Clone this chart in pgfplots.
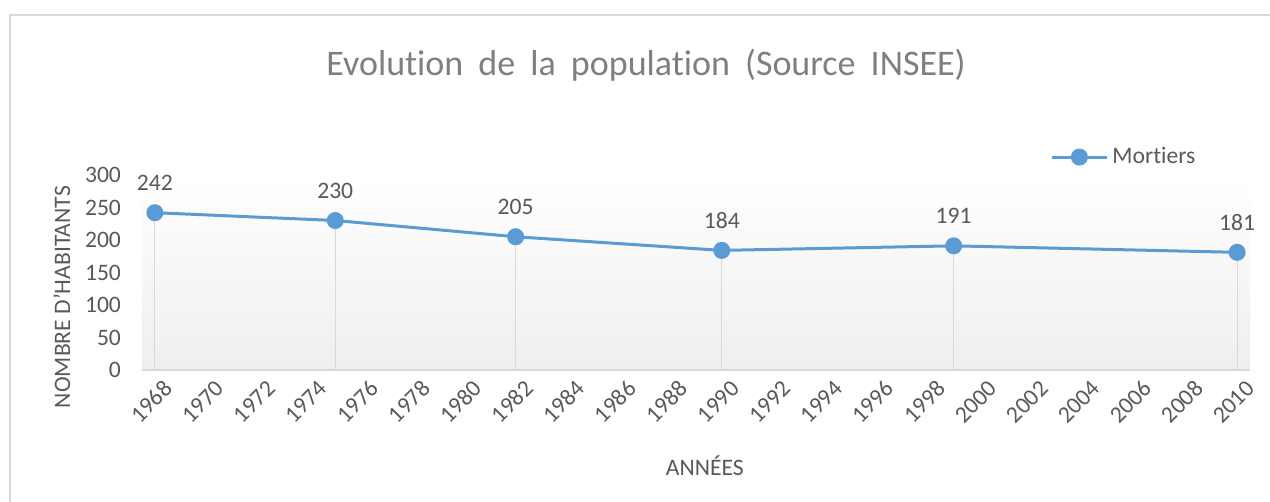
\documentclass[border=0pt]{standalone}
\usepackage{fontspec}
\setmainfont{Carlito}[Ligatures={NoCommon}]
\usepackage{pgfplots}
\pgfplotsset{compat=1.18}
\definecolor{lineblue}{HTML}{5B9BD5}
\definecolor{txtgray}{HTML}{595959}
\definecolor{titlegray}{HTML}{7F7F7F}
\definecolor{gridgray}{HTML}{D9D9D9}
\newcommand{\lbl}{\fontsize{11.8}{13}\selectfont}
\begin{document}
\begin{tikzpicture}
\useasboundingbox (0,0) rectangle (635pt,251pt);
\draw[gridgray, line width=1pt] (5pt,0) -- (5pt,243.5pt) -- (635pt,243.5pt);
\begin{axis}[
  at={(71pt,66pt)}, anchor=south west,
  scale only axis, width=554pt, height=97.5pt,
  xmin=1967.5, xmax=2010.5, ymin=0, ymax=300,
  xtick={1968,1970,...,2010},
  ytick={0,50,...,300},
  /pgf/number format/1000 sep={},
  /pgf/number format/assume math mode=true,
  axis x line*=bottom, axis y line*=left,
  x axis line style={gridgray, line width=0.75pt, -},
  y axis line style={draw=none},
  major tick length=0pt,
  clip=false,
  axis background/.style={top color=white, bottom color=gray!13},
  tick label style={font=\lbl, text=txtgray},
  yticklabel style={xshift=-7pt},
  xticklabel style={rotate=45, anchor=east, yshift=-10pt, xshift=3pt},
  title={\spaceskip=0.42em Evolution de la population (Source INSEE)},
  title style={at={(axis description cs:0.455,1.50)}, anchor=center,
    font=\fontsize{18}{21}\selectfont, text=titlegray},
  xlabel={ANNÉES},
  xlabel style={at={(axis description cs:0.508,-0.49)}, anchor=center,
    font=\lbl, text=txtgray},
  ylabel={NOMBRE D'HABITANTS},
  ylabel style={at={(axis description cs:-0.0722,0.374)}, anchor=center, rotate=0,
    font=\lbl, text=txtgray},
  legend style={at={(axis description cs:0.8195,1.092)}, anchor=west, draw=none, fill=none,
    font=\lbl, text=txtgray, inner sep=0pt},
  legend image code/.code={\draw[mark repeat=2,mark phase=2,#1] plot coordinates {(0pt,0pt) (13.75pt,0pt) (27.5pt,0pt)};},
]
\addplot[gridgray, line width=0.5pt, ycomb, forget plot] coordinates {
  (1968,242) (1975,230) (1982,205) (1990,184) (1999,191) (2010,181)};
\addplot[lineblue, line width=1.5pt, mark=*, mark size=3.5pt,
  mark options={fill=lineblue, draw=lineblue},
  nodes near coords,
  every node near coord/.append style={font=\lbl, text=txtgray, yshift=7pt}]
  coordinates {
  (1968,242) (1975,230) (1982,205) (1990,184) (1999,191) (2010,181)};
\addlegendentry{Mortiers}
\end{axis}
\end{tikzpicture}
\end{document}
